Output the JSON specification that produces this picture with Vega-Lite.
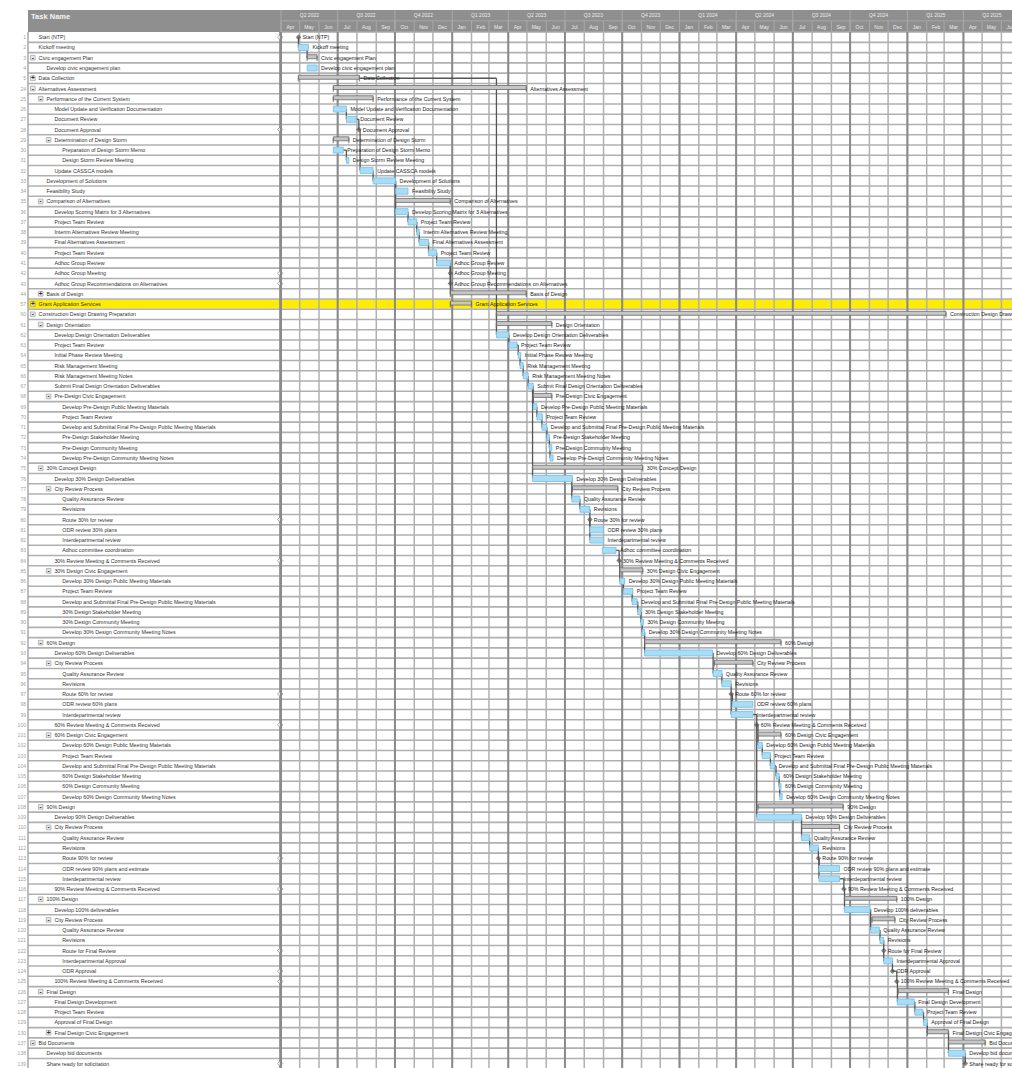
{
"$schema":"https://vega.github.io/schema/vega-lite/v6.json",
"background":"white","padding":0,"spacing":0,"bounds":"flush",
"config":{"view":{"stroke":null},"font":"Liberation Sans","text":{"font":"Liberation Sans"}},
"datasets":{
"tasks":[
{"id":1,"idx":0,"name":"Start (NTP)","lvl":1,"type":"m","start":"2022-04-29","end":"2022-04-29"},
{"id":2,"idx":1,"name":"Kickoff meeting","lvl":1,"type":"t","start":"2022-04-29","end":"2022-05-15","pred":1},
{"id":3,"idx":2,"name":"Civic engagement Plan","lvl":1,"type":"s","start":"2022-05-13","end":"2022-05-29","exp":"-","pred":2},
{"id":4,"idx":3,"name":"Develop civic engagement plan","lvl":2,"type":"t","start":"2022-05-13","end":"2022-05-29"},
{"id":5,"idx":4,"name":"Data Collection","lvl":1,"type":"s","start":"2022-04-29","end":"2022-08-05","exp":"+"},
{"id":24,"idx":5,"name":"Alternatives Assessment","lvl":1,"type":"s","start":"2022-06-24","end":"2023-04-30","exp":"-"},
{"id":25,"idx":6,"name":"Performance of the Current System","lvl":2,"type":"s","start":"2022-06-24","end":"2022-08-27","exp":"-"},
{"id":26,"idx":7,"name":"Model Update and Verification Documentation","lvl":3,"type":"t","start":"2022-06-24","end":"2022-07-15"},
{"id":27,"idx":8,"name":"Document Review","lvl":3,"type":"t","start":"2022-07-15","end":"2022-07-31","pred":26},
{"id":28,"idx":9,"name":"Document Approval","lvl":3,"type":"m","start":"2022-08-04","end":"2022-08-04","pred":27},
{"id":29,"idx":10,"name":"Determination of Design Storm","lvl":3,"type":"s","start":"2022-06-24","end":"2022-07-19","exp":"-"},
{"id":30,"idx":11,"name":"Preparation of Design Storm Memo","lvl":4,"type":"t","start":"2022-06-24","end":"2022-07-10"},
{"id":31,"idx":12,"name":"Design Storm Review Meeting","lvl":4,"type":"t","start":"2022-07-15","end":"2022-07-19","pred":30},
{"id":32,"idx":13,"name":"Update CASSCA models","lvl":3,"type":"t","start":"2022-08-06","end":"2022-08-27","pred":28},
{"id":33,"idx":14,"name":"Development of Solutions","lvl":2,"type":"t","start":"2022-08-27","end":"2022-10-02","pred":32},
{"id":34,"idx":15,"name":"Feasibility Study","lvl":2,"type":"t","start":"2022-10-02","end":"2022-10-22","pred":33},
{"id":35,"idx":16,"name":"Comparison of Alternatives","lvl":2,"type":"s","start":"2022-10-02","end":"2022-12-29","exp":"-"},
{"id":36,"idx":17,"name":"Develop Scoring Matrix for 3 Alternatives","lvl":3,"type":"t","start":"2022-10-02","end":"2022-10-22","pred":33},
{"id":37,"idx":18,"name":"Project Team Review","lvl":3,"type":"t","start":"2022-10-22","end":"2022-11-05","pred":36},
{"id":38,"idx":19,"name":"Interim Alternatives Review Meeting","lvl":3,"type":"t","start":"2022-11-05","end":"2022-11-09","pred":37},
{"id":39,"idx":20,"name":"Final Alternatives Assessment","lvl":3,"type":"t","start":"2022-11-09","end":"2022-11-24","pred":38},
{"id":40,"idx":21,"name":"Project Team Review","lvl":3,"type":"t","start":"2022-11-24","end":"2022-12-07","pred":39},
{"id":41,"idx":22,"name":"Adhoc Group Review","lvl":3,"type":"t","start":"2022-12-07","end":"2022-12-29","pred":40},
{"id":42,"idx":23,"name":"Adhoc Group Meeting","lvl":3,"type":"m","start":"2022-12-29","end":"2022-12-29","pred":41},
{"id":43,"idx":24,"name":"Adhoc Group Recommendations on Alternatives","lvl":3,"type":"m","start":"2022-12-29","end":"2022-12-29","pred":41},
{"id":44,"idx":25,"name":"Basis of Design","lvl":2,"type":"s","start":"2022-12-29","end":"2023-04-30","exp":"+","pred":41},
{"id":57,"idx":26,"name":"Grant Application Services","lvl":1,"type":"s","start":"2022-12-29","end":"2023-02-01","exp":"+","flag":"highlight"},
{"id":60,"idx":27,"name":"Construction Design Drawing Preparation","lvl":1,"type":"s","start":"2023-03-13","end":"2025-03-04","exp":"-"},
{"id":61,"idx":28,"name":"Design Orientation","lvl":2,"type":"s","start":"2023-03-13","end":"2023-06-10","exp":"-"},
{"id":62,"idx":29,"name":"Develop Design Orientation Deliverables","lvl":3,"type":"t","start":"2023-03-13","end":"2023-04-02","pred":5},
{"id":63,"idx":30,"name":"Project Team Review","lvl":3,"type":"t","start":"2023-04-02","end":"2023-04-15","pred":62},
{"id":64,"idx":31,"name":"Initial Phase Review Meeting","lvl":3,"type":"t","start":"2023-04-17","end":"2023-04-21","pred":63},
{"id":65,"idx":32,"name":"Risk Management Meeting","lvl":3,"type":"t","start":"2023-04-20","end":"2023-04-25","pred":64},
{"id":66,"idx":33,"name":"Risk Management Meeting Notes","lvl":3,"type":"t","start":"2023-04-25","end":"2023-05-03","pred":65},
{"id":67,"idx":34,"name":"Submit Final Design Orientation Deliverables","lvl":3,"type":"t","start":"2023-05-03","end":"2023-05-11","pred":66},
{"id":68,"idx":35,"name":"Pre-Design Civic Engagement","lvl":3,"type":"s","start":"2023-05-11","end":"2023-06-10","exp":"-"},
{"id":69,"idx":36,"name":"Develop Pre-Design Public Meeting Materials","lvl":4,"type":"t","start":"2023-05-11","end":"2023-05-17","pred":67},
{"id":70,"idx":37,"name":"Project Team Review","lvl":4,"type":"t","start":"2023-05-17","end":"2023-05-26","pred":69},
{"id":71,"idx":38,"name":"Develop and Submittal Final Pre-Design Public Meeting Materials","lvl":4,"type":"t","start":"2023-05-25","end":"2023-06-02","pred":70},
{"id":72,"idx":39,"name":"Pre-Design Stakeholder Meeting","lvl":4,"type":"t","start":"2023-06-02","end":"2023-06-06","pred":71},
{"id":73,"idx":40,"name":"Pre-Design Community Meeting","lvl":4,"type":"t","start":"2023-06-06","end":"2023-06-10","pred":72},
{"id":74,"idx":41,"name":"Develop Pre-Design Community Meeting Notes","lvl":4,"type":"t","start":"2023-06-07","end":"2023-06-12","pred":73},
{"id":75,"idx":42,"name":"30% Concept Design","lvl":2,"type":"s","start":"2023-05-10","end":"2023-11-03","exp":"-"},
{"id":76,"idx":43,"name":"Develop 30% Design Deliverables","lvl":3,"type":"t","start":"2023-05-10","end":"2023-07-13","pred":67},
{"id":77,"idx":44,"name":"City Review Process","lvl":3,"type":"s","start":"2023-07-13","end":"2023-09-24","exp":"-"},
{"id":78,"idx":45,"name":"Quality Assurance Review","lvl":4,"type":"t","start":"2023-07-12","end":"2023-07-25","pred":76},
{"id":79,"idx":46,"name":"Revisions","lvl":4,"type":"t","start":"2023-07-25","end":"2023-08-10","pred":78},
{"id":80,"idx":47,"name":"Route 30% for review","lvl":4,"type":"m","start":"2023-08-10","end":"2023-08-10","pred":79},
{"id":81,"idx":48,"name":"ODR review 30% plans","lvl":4,"type":"t","start":"2023-08-10","end":"2023-09-01","pred":80},
{"id":82,"idx":49,"name":"Interdepartmental review","lvl":4,"type":"t","start":"2023-08-10","end":"2023-09-01","pred":80},
{"id":83,"idx":50,"name":"Adhoc committee coordination","lvl":4,"type":"t","start":"2023-08-30","end":"2023-09-21"},
{"id":84,"idx":51,"name":"30% Review Meeting & Comments Received","lvl":3,"type":"m","start":"2023-09-26","end":"2023-09-26","pred":83},
{"id":85,"idx":52,"name":"30% Design Civic Engagement","lvl":3,"type":"s","start":"2023-09-27","end":"2023-11-03","exp":"-"},
{"id":86,"idx":53,"name":"Develop 30% Design Public Meeting Materials","lvl":4,"type":"t","start":"2023-09-27","end":"2023-10-05","pred":84},
{"id":87,"idx":54,"name":"Project Team Review","lvl":4,"type":"t","start":"2023-10-03","end":"2023-10-18","pred":86},
{"id":88,"idx":55,"name":"Develop and Submittal Final Pre-Design Public Meeting Materials","lvl":4,"type":"t","start":"2023-10-17","end":"2023-10-25","pred":87},
{"id":89,"idx":56,"name":"30% Design Stakeholder Meeting","lvl":4,"type":"t","start":"2023-10-26","end":"2023-10-31","pred":88},
{"id":90,"idx":57,"name":"30% Design Community Meeting","lvl":4,"type":"t","start":"2023-10-31","end":"2023-11-04","pred":89},
{"id":91,"idx":58,"name":"Develop 30% Design Community Meeting Notes","lvl":4,"type":"t","start":"2023-11-02","end":"2023-11-06","pred":90},
{"id":92,"idx":59,"name":"60% Design","lvl":2,"type":"s","start":"2023-11-06","end":"2024-06-12","exp":"-"},
{"id":93,"idx":60,"name":"Develop 60% Design Deliverables","lvl":3,"type":"t","start":"2023-11-06","end":"2024-02-23","pred":91},
{"id":94,"idx":61,"name":"City Review Process","lvl":3,"type":"s","start":"2024-02-26","end":"2024-04-28","exp":"-"},
{"id":95,"idx":62,"name":"Quality Assurance Review","lvl":4,"type":"t","start":"2024-02-24","end":"2024-03-09","pred":93},
{"id":96,"idx":63,"name":"Revisions","lvl":4,"type":"t","start":"2024-03-09","end":"2024-03-24","pred":95},
{"id":97,"idx":64,"name":"Route 60% for review","lvl":4,"type":"m","start":"2024-03-24","end":"2024-03-24","pred":96},
{"id":98,"idx":65,"name":"ODR review 60% plans","lvl":4,"type":"t","start":"2024-03-26","end":"2024-04-28","pred":97},
{"id":99,"idx":66,"name":"Interdepartmental review","lvl":4,"type":"t","start":"2024-03-24","end":"2024-04-28","pred":97},
{"id":100,"idx":67,"name":"60% Review Meeting & Comments Received","lvl":3,"type":"m","start":"2024-05-04","end":"2024-05-04","pred":99},
{"id":101,"idx":68,"name":"60% Design Civic Engagement","lvl":3,"type":"s","start":"2024-05-06","end":"2024-06-12","exp":"-"},
{"id":102,"idx":69,"name":"Develop 60% Design Public Meeting Materials","lvl":4,"type":"t","start":"2024-05-06","end":"2024-05-13","pred":100},
{"id":103,"idx":70,"name":"Project Team Review","lvl":4,"type":"t","start":"2024-05-13","end":"2024-05-26","pred":102},
{"id":104,"idx":71,"name":"Develop and Submittal Final Pre-Design Public Meeting Materials","lvl":4,"type":"t","start":"2024-05-26","end":"2024-06-02","pred":103},
{"id":105,"idx":72,"name":"60% Design Stakeholder Meeting","lvl":4,"type":"t","start":"2024-06-04","end":"2024-06-09","pred":104},
{"id":106,"idx":73,"name":"60% Design Community Meeting","lvl":4,"type":"t","start":"2024-06-09","end":"2024-06-12","pred":105},
{"id":107,"idx":74,"name":"Develop 60% Design Community Meeting Notes","lvl":4,"type":"t","start":"2024-06-10","end":"2024-06-14","pred":106},
{"id":108,"idx":75,"name":"90% Design","lvl":2,"type":"s","start":"2024-05-06","end":"2024-09-20","exp":"-"},
{"id":109,"idx":76,"name":"Develop 90% Design Deliverables","lvl":3,"type":"t","start":"2024-05-04","end":"2024-07-15","pred":100},
{"id":110,"idx":77,"name":"City Review Process","lvl":3,"type":"s","start":"2024-07-15","end":"2024-09-14","exp":"-"},
{"id":111,"idx":78,"name":"Quality Assurance Review","lvl":4,"type":"t","start":"2024-07-15","end":"2024-07-28","pred":109},
{"id":112,"idx":79,"name":"Revisions","lvl":4,"type":"t","start":"2024-07-28","end":"2024-08-11","pred":111},
{"id":113,"idx":80,"name":"Route 90% for review","lvl":4,"type":"m","start":"2024-08-11","end":"2024-08-11","pred":112},
{"id":114,"idx":81,"name":"ODR review 90% plans and estimate","lvl":4,"type":"t","start":"2024-08-12","end":"2024-09-14","pred":113},
{"id":115,"idx":82,"name":"Interdepartmental review","lvl":4,"type":"t","start":"2024-08-12","end":"2024-09-14","pred":113},
{"id":116,"idx":83,"name":"90% Review Meeting & Comments Received","lvl":3,"type":"m","start":"2024-09-21","end":"2024-09-21","pred":115},
{"id":117,"idx":84,"name":"100% Design","lvl":2,"type":"s","start":"2024-09-22","end":"2024-12-15","exp":"-"},
{"id":118,"idx":85,"name":"Develop 100% deliverables","lvl":3,"type":"t","start":"2024-09-22","end":"2024-11-02","pred":116},
{"id":119,"idx":86,"name":"City Review Process","lvl":3,"type":"s","start":"2024-11-05","end":"2024-12-12","exp":"-"},
{"id":120,"idx":87,"name":"Quality Assurance Review","lvl":4,"type":"t","start":"2024-11-03","end":"2024-11-17","pred":118},
{"id":121,"idx":88,"name":"Revisions","lvl":4,"type":"t","start":"2024-11-18","end":"2024-11-24","pred":120},
{"id":122,"idx":89,"name":"Route for Final Review","lvl":4,"type":"m","start":"2024-11-24","end":"2024-11-24","pred":121},
{"id":123,"idx":90,"name":"Interdepartmental Approval","lvl":4,"type":"t","start":"2024-11-24","end":"2024-12-08","pred":122},
{"id":124,"idx":91,"name":"ODR Approval","lvl":4,"type":"m","start":"2024-12-08","end":"2024-12-08","pred":123},
{"id":125,"idx":92,"name":"100% Review Meeting & Comments Received","lvl":3,"type":"m","start":"2024-12-15","end":"2024-12-15","pred":124},
{"id":126,"idx":93,"name":"Final Design","lvl":2,"type":"s","start":"2024-12-17","end":"2025-03-08","exp":"-"},
{"id":127,"idx":94,"name":"Final Design Development","lvl":3,"type":"t","start":"2024-12-16","end":"2025-01-12","pred":125},
{"id":128,"idx":95,"name":"Project Team Review","lvl":3,"type":"t","start":"2025-01-13","end":"2025-01-26","pred":127},
{"id":129,"idx":96,"name":"Approval of Final Design","lvl":3,"type":"t","start":"2025-01-27","end":"2025-02-02","pred":128},
{"id":130,"idx":97,"name":"Final Design Civic Engagement","lvl":3,"type":"s","start":"2025-02-02","end":"2025-03-08","exp":"+","pred":129},
{"id":137,"idx":98,"name":"Bid Documents","lvl":1,"type":"s","start":"2025-03-08","end":"2025-05-06","exp":"-"},
{"id":138,"idx":99,"name":"Develop bid documents","lvl":2,"type":"t","start":"2025-03-08","end":"2025-04-04","pred":130},
{"id":139,"idx":100,"name":"Share ready for solicitation","lvl":2,"type":"m","start":"2025-04-04","end":"2025-04-04","pred":138}
],
"months":[
{"d":"2022-04-01","m":"Apr"},{"d":"2022-05-01","m":"May"},{"d":"2022-06-01","m":"Jun"},{"d":"2022-07-01","m":"Jul"},{"d":"2022-08-01","m":"Aug"},{"d":"2022-09-01","m":"Sep"},{"d":"2022-10-01","m":"Oct"},{"d":"2022-11-01","m":"Nov"},{"d":"2022-12-01","m":"Dec"},
{"d":"2023-01-01","m":"Jan"},{"d":"2023-02-01","m":"Feb"},{"d":"2023-03-01","m":"Mar"},{"d":"2023-04-01","m":"Apr"},{"d":"2023-05-01","m":"May"},{"d":"2023-06-01","m":"Jun"},{"d":"2023-07-01","m":"Jul"},{"d":"2023-08-01","m":"Aug"},{"d":"2023-09-01","m":"Sep"},{"d":"2023-10-01","m":"Oct"},{"d":"2023-11-01","m":"Nov"},{"d":"2023-12-01","m":"Dec"},
{"d":"2024-01-01","m":"Jan"},{"d":"2024-02-01","m":"Feb"},{"d":"2024-03-01","m":"Mar"},{"d":"2024-04-01","m":"Apr"},{"d":"2024-05-01","m":"May"},{"d":"2024-06-01","m":"Jun"},{"d":"2024-07-01","m":"Jul"},{"d":"2024-08-01","m":"Aug"},{"d":"2024-09-01","m":"Sep"},{"d":"2024-10-01","m":"Oct"},{"d":"2024-11-01","m":"Nov"},{"d":"2024-12-01","m":"Dec"},
{"d":"2025-01-01","m":"Jan"},{"d":"2025-02-01","m":"Feb"},{"d":"2025-03-01","m":"Mar"},{"d":"2025-04-01","m":"Apr"},{"d":"2025-05-01","m":"May"},{"d":"2025-06-01","m":"Jun"}
],
"quarters":[
{"d":"2022-04-01","q":"Q2 2022"},{"d":"2022-07-01","q":"Q3 2022"},{"d":"2022-10-01","q":"Q4 2022"},{"d":"2023-01-01","q":"Q1 2023"},{"d":"2023-04-01","q":"Q2 2023"},{"d":"2023-07-01","q":"Q3 2023"},{"d":"2023-10-01","q":"Q4 2023"},{"d":"2024-01-01","q":"Q1 2024"},{"d":"2024-04-01","q":"Q2 2024"},{"d":"2024-07-01","q":"Q3 2024"},{"d":"2024-10-01","q":"Q4 2024"},{"d":"2025-01-01","q":"Q1 2025"},{"d":"2025-04-01","q":"Q2 2025"}
]
},
"hconcat":[
{
"width":281,"height":1068,
"layer":[
{"data":{"values":[{}]},"mark":{"type":"rect","color":"#8f8f8f"},
 "encoding":{"x":{"datum":-0.342,"type":"quantitative","scale":{"domain":[-3.886,31.684],"nice":false,"zero":false},"axis":null},"x2":{"datum":31.684},
 "y":{"datum":-2.654,"type":"quantitative","scale":{"domain":[-3.137,99.95],"reverse":true,"nice":false,"zero":false},"axis":null},"y2":{"datum":-0.502}}},
{"data":{"values":[{}]},"mark":{"type":"text","text":"Task Name","align":"left","baseline":"middle","fontSize":7.5,"fontWeight":"bold","color":"#f5f5f5"},
 "encoding":{"x":{"datum":0.05,"type":"quantitative","scale":{"domain":[-3.886,31.684],"nice":false,"zero":false},"axis":null},
 "y":{"datum":-2.0,"type":"quantitative","scale":{"domain":[-3.137,99.95],"reverse":true,"nice":false,"zero":false},"axis":null}}},
{"data":{"name":"tasks"},"transform":[{"filter":{"field":"flag","equal":"highlight"}}],
 "mark":{"type":"bar","color":"#ffec00","size":9},
 "encoding":{"x":{"datum":-0.342,"type":"quantitative","scale":{"domain":[-3.886,31.684],"nice":false,"zero":false},"axis":null},"x2":{"datum":31.684},
 "y":{"field":"idx","type":"quantitative","scale":{"domain":[-3.137,99.95],"reverse":true,"nice":false,"zero":false},"axis":null}}},
{"data":{"name":"tasks"},"mark":{"type":"rule","color":"#b0b0b0","strokeWidth":1.6,"yOffset":5.18},
 "encoding":{"x":{"datum":-0.342,"type":"quantitative","scale":{"domain":[-3.886,31.684],"nice":false,"zero":false},"axis":null},"x2":{"datum":31.684},
 "y":{"field":"idx","type":"quantitative","scale":{"domain":[-3.137,99.95],"reverse":true,"nice":false,"zero":false},"axis":null}}},
{"data":{"values":[{}]},"mark":{"type":"rule","color":"#a8a8a8","strokeWidth":1.5},
 "encoding":{"x":{"datum":-0.342,"type":"quantitative","scale":{"domain":[-3.886,31.684],"nice":false,"zero":false},"axis":null},
 "y":{"datum":-0.502,"type":"quantitative","scale":{"domain":[-3.137,99.95],"reverse":true,"nice":false,"zero":false},"axis":null},"y2":{"datum":100.6}}},
{"data":{"values":[{}]},"mark":{"type":"rule","color":"#8a8a8a","strokeWidth":2},
 "encoding":{"x":{"datum":31.58,"type":"quantitative","scale":{"domain":[-3.886,31.684],"nice":false,"zero":false},"axis":null},
 "y":{"datum":-0.502,"type":"quantitative","scale":{"domain":[-3.137,99.95],"reverse":true,"nice":false,"zero":false},"axis":null},"y2":{"datum":100.6}}},
{"data":{"name":"tasks"},"mark":{"type":"text","align":"right","baseline":"middle","fontSize":5,"color":"#a0a0a0"},
 "encoding":{"x":{"datum":-0.6,"type":"quantitative","scale":{"domain":[-3.886,31.684],"nice":false,"zero":false},"axis":null},
 "y":{"field":"idx","type":"quantitative","scale":{"domain":[-3.137,99.95],"reverse":true,"nice":false,"zero":false},"axis":null},
 "text":{"field":"id","type":"nominal"}}},
{"data":{"name":"tasks"},"transform":[{"filter":{"field":"exp","oneOf":["-","+"]}}],
 "mark":{"type":"point","shape":"square","filled":true,"size":22,"fill":"#dedede","stroke":"#8a8a8a","strokeWidth":0.8,"xOffset":-5.8},
 "encoding":{"x":{"field":"lvl","type":"quantitative","scale":{"domain":[-3.886,31.684],"nice":false,"zero":false},"axis":null},
 "y":{"field":"idx","type":"quantitative","scale":{"domain":[-3.137,99.95],"reverse":true,"nice":false,"zero":false},"axis":null}}},
{"data":{"name":"tasks"},"transform":[{"filter":{"field":"exp","oneOf":["-","+"]}}],
 "mark":{"type":"text","align":"center","baseline":"middle","fontSize":6.5,"fontWeight":"bold","color":"#333333","dx":-5.8},
 "encoding":{"x":{"field":"lvl","type":"quantitative","scale":{"domain":[-3.886,31.684],"nice":false,"zero":false},"axis":null},
 "y":{"field":"idx","type":"quantitative","scale":{"domain":[-3.137,99.95],"reverse":true,"nice":false,"zero":false},"axis":null},
 "text":{"field":"exp","type":"nominal"}}},
{"data":{"name":"tasks"},"mark":{"type":"text","align":"left","baseline":"middle","fontSize":5.3,"color":"#333333"},
 "encoding":{"x":{"field":"lvl","type":"quantitative","scale":{"domain":[-3.886,31.684],"nice":false,"zero":false},"axis":null},
 "y":{"field":"idx","type":"quantitative","scale":{"domain":[-3.137,99.95],"reverse":true,"nice":false,"zero":false},"axis":null},
 "text":{"field":"name","type":"nominal"}}},
{"data":{"name":"tasks"},"transform":[{"filter":{"field":"type","equal":"m"}}],
 "mark":{"type":"point","shape":"diamond","filled":true,"size":30,"fill":"#ffffff","stroke":"#8a8a8a","strokeWidth":1},
 "encoding":{"x":{"datum":31.58,"type":"quantitative","scale":{"domain":[-3.886,31.684],"nice":false,"zero":false},"axis":null},
 "y":{"field":"idx","type":"quantitative","scale":{"domain":[-3.137,99.95],"reverse":true,"nice":false,"zero":false},"axis":null}}}
]
},
{
"width":731,"height":1068,
"layer":[
{"data":{"values":[{}]},"mark":{"type":"rect","color":"#8f8f8f"},
 "encoding":{"x":{"datum":{"year":2022,"month":4,"date":1,"utc":true},"type":"temporal","scale":{"type":"utc","domain":[{"year":2022,"month":4,"date":1,"utc":true},{"year":2025,"month":6,"date":18,"utc":true}],"nice":false},"axis":null},
 "x2":{"datum":{"year":2025,"month":6,"date":18,"utc":true}},
 "y":{"datum":-2.654,"type":"quantitative","scale":{"domain":[-3.137,99.95],"reverse":true,"nice":false,"zero":false},"axis":null},"y2":{"datum":-0.502}}},
{"data":{"values":[{}]},"mark":{"type":"rule","color":"#a9a9a9","strokeWidth":1},
 "encoding":{"y":{"datum":-1.593,"type":"quantitative","scale":{"domain":[-3.137,99.95],"reverse":true,"nice":false,"zero":false},"axis":null}}},
{"data":{"name":"months"},"mark":{"type":"rule","color":"#a9a9a9","strokeWidth":1},
 "encoding":{"x":{"field":"d","type":"temporal","scale":{"type":"utc","domain":[{"year":2022,"month":4,"date":1,"utc":true},{"year":2025,"month":6,"date":18,"utc":true}],"nice":false},"axis":null},
 "y":{"datum":-1.593,"type":"quantitative","scale":{"domain":[-3.137,99.95],"reverse":true,"nice":false,"zero":false},"axis":null},"y2":{"datum":-0.502}}},
{"data":{"name":"quarters"},"mark":{"type":"rule","color":"#a9a9a9","strokeWidth":1},
 "encoding":{"x":{"field":"d","type":"temporal","scale":{"type":"utc","domain":[{"year":2022,"month":4,"date":1,"utc":true},{"year":2025,"month":6,"date":18,"utc":true}],"nice":false},"axis":null},
 "y":{"datum":-2.654,"type":"quantitative","scale":{"domain":[-3.137,99.95],"reverse":true,"nice":false,"zero":false},"axis":null},"y2":{"datum":-0.502}}},
{"data":{"name":"quarters"},"mark":{"type":"text","align":"center","baseline":"middle","fontSize":5,"color":"#ececec","dx":28.4,"clip":true},
 "encoding":{"x":{"field":"d","type":"temporal","scale":{"type":"utc","domain":[{"year":2022,"month":4,"date":1,"utc":true},{"year":2025,"month":6,"date":18,"utc":true}],"nice":false},"axis":null},
 "y":{"datum":-2.124,"type":"quantitative","scale":{"domain":[-3.137,99.95],"reverse":true,"nice":false,"zero":false},"axis":null},
 "text":{"field":"q","type":"nominal"}}},
{"data":{"name":"months"},"mark":{"type":"text","align":"center","baseline":"middle","fontSize":5,"color":"#ececec","dx":9.4,"clip":true},
 "encoding":{"x":{"field":"d","type":"temporal","scale":{"type":"utc","domain":[{"year":2022,"month":4,"date":1,"utc":true},{"year":2025,"month":6,"date":18,"utc":true}],"nice":false},"axis":null},
 "y":{"datum":-1.042,"type":"quantitative","scale":{"domain":[-3.137,99.95],"reverse":true,"nice":false,"zero":false},"axis":null},
 "text":{"field":"m","type":"nominal"}}},
{"data":{"name":"tasks"},"transform":[{"filter":{"field":"flag","equal":"highlight"}}],
 "mark":{"type":"bar","color":"#ffec00","size":9},
 "encoding":{"x":{"datum":{"year":2022,"month":4,"date":1,"utc":true},"type":"temporal","scale":{"type":"utc","domain":[{"year":2022,"month":4,"date":1,"utc":true},{"year":2025,"month":6,"date":18,"utc":true}],"nice":false},"axis":null},
 "x2":{"datum":{"year":2025,"month":6,"date":18,"utc":true}},
 "y":{"field":"idx","type":"quantitative","scale":{"domain":[-3.137,99.95],"reverse":true,"nice":false,"zero":false},"axis":null}}},
{"data":{"name":"tasks"},"mark":{"type":"rule","color":"#b0b0b0","strokeWidth":1.6,"yOffset":5.18},
 "encoding":{"y":{"field":"idx","type":"quantitative","scale":{"domain":[-3.137,99.95],"reverse":true,"nice":false,"zero":false},"axis":null}}},
{"data":{"values":[{}]},"mark":{"type":"rule","color":"#a8a8a8","strokeWidth":1.5},
 "encoding":{"y":{"datum":-0.502,"type":"quantitative","scale":{"domain":[-3.137,99.95],"reverse":true,"nice":false,"zero":false},"axis":null}}},
{"data":{"name":"months"},"mark":{"type":"rule","color":"#b0b0b0","strokeWidth":1.5},
 "encoding":{"x":{"field":"d","type":"temporal","scale":{"type":"utc","domain":[{"year":2022,"month":4,"date":1,"utc":true},{"year":2025,"month":6,"date":18,"utc":true}],"nice":false},"axis":null},
 "y":{"datum":-0.502,"type":"quantitative","scale":{"domain":[-3.137,99.95],"reverse":true,"nice":false,"zero":false},"axis":null},"y2":{"datum":100.6}}},
{"data":{"name":"quarters"},"mark":{"type":"rule","color":"#8a8a8a","strokeWidth":2},
 "encoding":{"x":{"field":"d","type":"temporal","scale":{"type":"utc","domain":[{"year":2022,"month":4,"date":1,"utc":true},{"year":2025,"month":6,"date":18,"utc":true}],"nice":false},"axis":null},
 "y":{"datum":-0.502,"type":"quantitative","scale":{"domain":[-3.137,99.95],"reverse":true,"nice":false,"zero":false},"axis":null},"y2":{"datum":100.6}}},
{"data":{"name":"tasks"},"transform":[{"filter":"isValid(datum.pred)"},{"lookup":"pred","from":{"data":{"name":"tasks"},"key":"id","fields":["idx","end"]},"as":["pidx","pend"]}],
 "mark":{"type":"rule","color":"#555555","strokeWidth":1.3},
 "encoding":{"x":{"field":"pend","type":"temporal","scale":{"type":"utc","domain":[{"year":2022,"month":4,"date":1,"utc":true},{"year":2025,"month":6,"date":18,"utc":true}],"nice":false},"axis":null},
 "x2":{"field":"start"},
 "y":{"field":"pidx","type":"quantitative","scale":{"domain":[-3.137,99.95],"reverse":true,"nice":false,"zero":false},"axis":null}}},
{"data":{"name":"tasks"},"transform":[{"filter":"isValid(datum.pred)"},{"lookup":"pred","from":{"data":{"name":"tasks"},"key":"id","fields":["idx","end"]},"as":["pidx","pend"]}],
 "mark":{"type":"rule","color":"#555555","strokeWidth":1.3},
 "encoding":{"x":{"field":"start","type":"temporal","scale":{"type":"utc","domain":[{"year":2022,"month":4,"date":1,"utc":true},{"year":2025,"month":6,"date":18,"utc":true}],"nice":false},"axis":null},
 "y":{"field":"pidx","type":"quantitative","scale":{"domain":[-3.137,99.95],"reverse":true,"nice":false,"zero":false},"axis":null},
 "y2":{"field":"idx"}}},
{"data":{"name":"tasks"},"transform":[{"filter":{"field":"type","equal":"s"}}],
 "mark":{"type":"bar","size":4,"yOffset":-1,"fill":"#c6c6c6","stroke":"#6a6a6a","strokeWidth":0.8,"clip":true},
 "encoding":{"x":{"field":"start","type":"temporal","scale":{"type":"utc","domain":[{"year":2022,"month":4,"date":1,"utc":true},{"year":2025,"month":6,"date":18,"utc":true}],"nice":false},"axis":null},
 "x2":{"field":"end"},
 "y":{"field":"idx","type":"quantitative","scale":{"domain":[-3.137,99.95],"reverse":true,"nice":false,"zero":false},"axis":null}}},
{"data":{"name":"tasks"},"transform":[{"filter":{"field":"type","equal":"s"}}],
 "mark":{"type":"tick","orient":"vertical","size":5,"thickness":1.3,"yOffset":0.8,"color":"#6a6a6a","clip":true},
 "encoding":{"x":{"field":"start","type":"temporal","scale":{"type":"utc","domain":[{"year":2022,"month":4,"date":1,"utc":true},{"year":2025,"month":6,"date":18,"utc":true}],"nice":false},"axis":null},
 "y":{"field":"idx","type":"quantitative","scale":{"domain":[-3.137,99.95],"reverse":true,"nice":false,"zero":false},"axis":null}}},
{"data":{"name":"tasks"},"transform":[{"filter":{"field":"type","equal":"s"}}],
 "mark":{"type":"tick","orient":"vertical","size":5,"thickness":1.3,"yOffset":0.8,"color":"#6a6a6a","clip":true},
 "encoding":{"x":{"field":"end","type":"temporal","scale":{"type":"utc","domain":[{"year":2022,"month":4,"date":1,"utc":true},{"year":2025,"month":6,"date":18,"utc":true}],"nice":false},"axis":null},
 "y":{"field":"idx","type":"quantitative","scale":{"domain":[-3.137,99.95],"reverse":true,"nice":false,"zero":false},"axis":null}}},
{"data":{"name":"tasks"},"transform":[{"filter":{"field":"type","equal":"t"}}],
 "mark":{"type":"bar","size":6,"fill":"#aadcf5","stroke":"#6fc0ea","strokeWidth":0.8,"clip":true},
 "encoding":{"x":{"field":"start","type":"temporal","scale":{"type":"utc","domain":[{"year":2022,"month":4,"date":1,"utc":true},{"year":2025,"month":6,"date":18,"utc":true}],"nice":false},"axis":null},
 "x2":{"field":"end"},
 "y":{"field":"idx","type":"quantitative","scale":{"domain":[-3.137,99.95],"reverse":true,"nice":false,"zero":false},"axis":null}}},
{"data":{"name":"tasks"},"transform":[{"filter":{"field":"type","equal":"m"}}],
 "mark":{"type":"point","shape":"diamond","filled":true,"size":32,"color":"#555555","clip":true},
 "encoding":{"x":{"field":"start","type":"temporal","scale":{"type":"utc","domain":[{"year":2022,"month":4,"date":1,"utc":true},{"year":2025,"month":6,"date":18,"utc":true}],"nice":false},"axis":null},
 "y":{"field":"idx","type":"quantitative","scale":{"domain":[-3.137,99.95],"reverse":true,"nice":false,"zero":false},"axis":null}}},
{"data":{"name":"tasks"},"mark":{"type":"text","align":"left","baseline":"middle","fontSize":5.3,"color":"#222222","dx":4,"clip":true},
 "encoding":{"x":{"field":"end","type":"temporal","scale":{"type":"utc","domain":[{"year":2022,"month":4,"date":1,"utc":true},{"year":2025,"month":6,"date":18,"utc":true}],"nice":false},"axis":null},
 "y":{"field":"idx","type":"quantitative","scale":{"domain":[-3.137,99.95],"reverse":true,"nice":false,"zero":false},"axis":null},
 "text":{"field":"name","type":"nominal"}}}
]
}
]
}
